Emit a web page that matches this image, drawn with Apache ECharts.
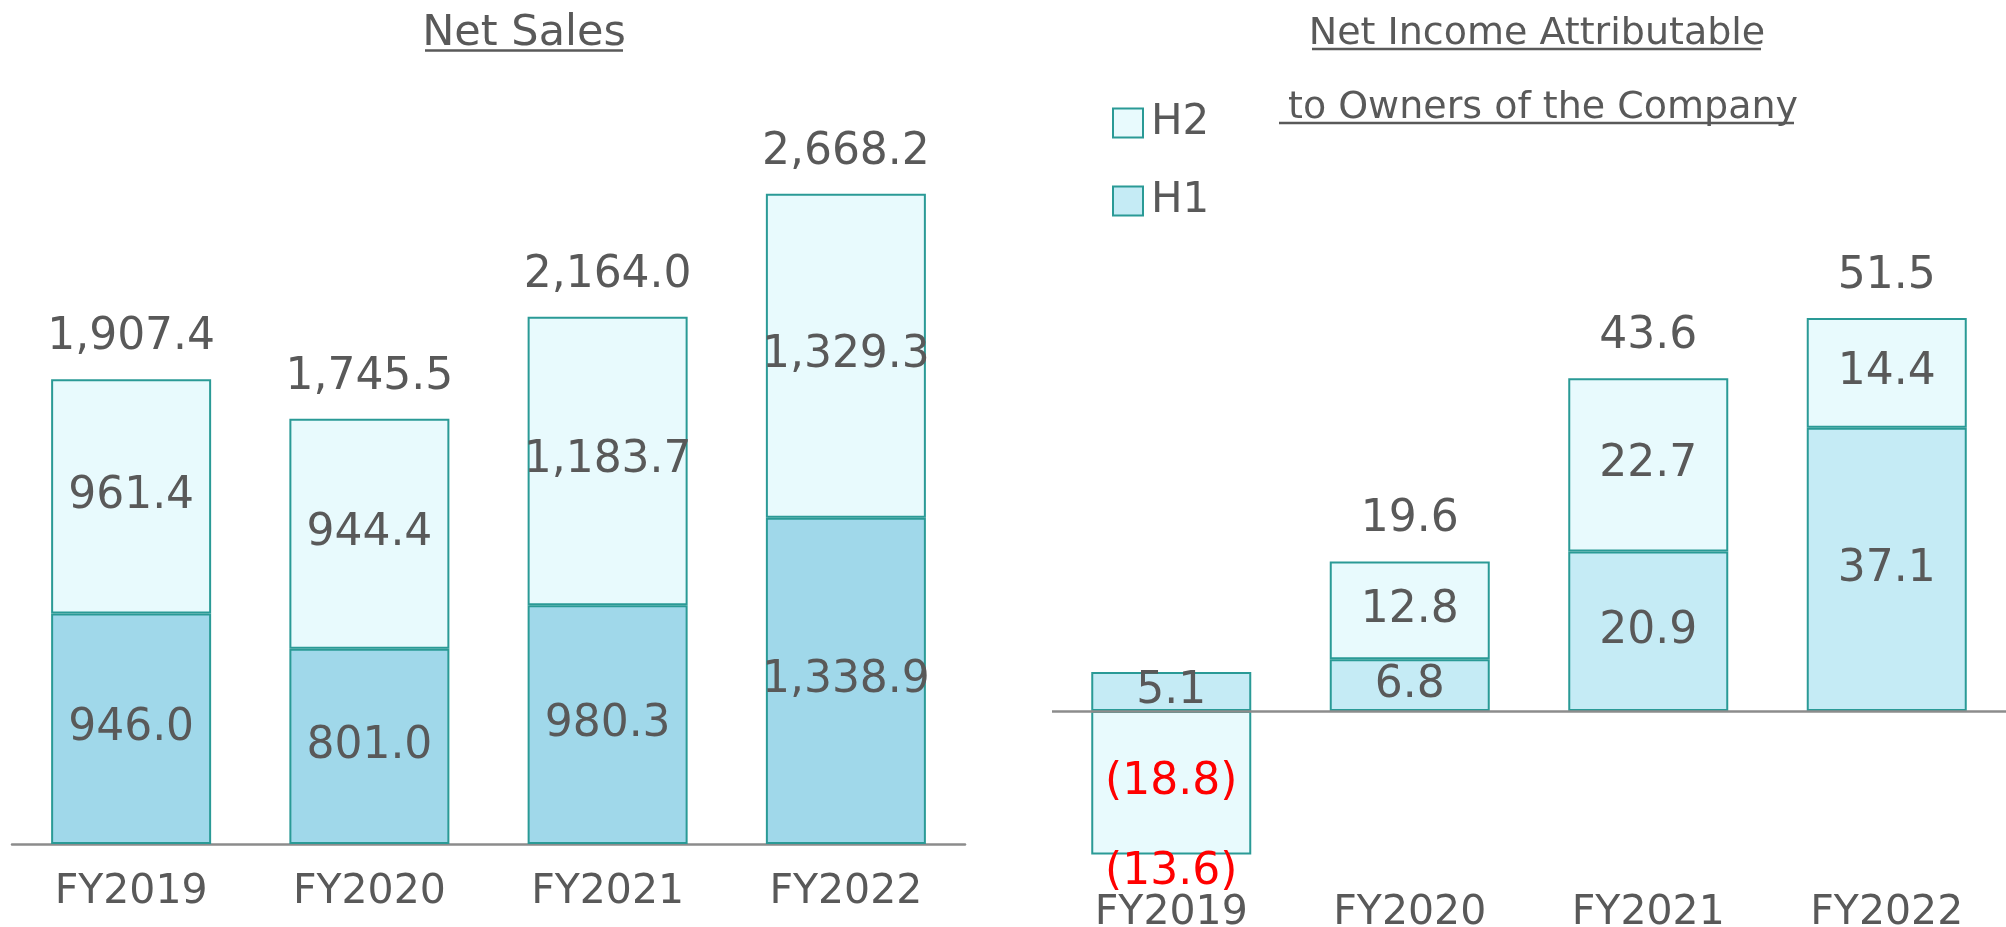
<!DOCTYPE html>
<html>
<head>
<meta charset="utf-8">
<title>Net Sales / Net Income</title>
<script src="https://cdn.jsdelivr.net/npm/echarts@6/dist/echarts.min.js"></script>
<style>
  html, body { margin: 0; padding: 0; background: #fff; }
  #main { width: 2006px; height: 927px; }
</style>
</head>
<body>
<div id="main"></div>
<script>
// data
var categories = ["FY2019", "FY2020", "FY2021", "FY2022"];

var salesH1 = [946.0, 801.0, 980.3, 1338.9];
var salesH2 = [961.4, 944.4, 1183.7, 1329.3];
var salesTotal = [1907.4, 1745.5, 2164.0, 2668.2];

var incomeH1 = [5.1, 6.8, 20.9, 37.1];
var incomeH2 = [-18.8, 12.8, 22.7, 14.4];
var incomeTotal = [-13.6, 19.6, 43.6, 51.5];

var font = "DejaVu Sans";
var textColor = "#595959";
var border = "#2A9A96";

function fmt(v) {
  var s = Math.abs(v).toFixed(1).replace(/\B(?=(\d{3})+(?!\d))/g, ",");
  return v < 0 ? "(" + s + ")" : s;
}

// red text for negative values
function items(arr) {
  return arr.map(function (v) {
    return v < 0 ? { value: v, label: { color: "#FF0000" } } : v;
  });
}

// total labels sit on the end of the stack (top if positive, bottom if negative)
function totalPoints(a, b, totals) {
  return totals.map(function (t, i) {
    var pos = Math.max(a[i], 0) + Math.max(b[i], 0);
    var neg = Math.min(a[i], 0) + Math.min(b[i], 0);
    var isNeg = t < 0;
    return {
      value: [i, isNeg ? neg : pos],
      total: t,
      label: isNeg ? { position: "bottom", distance: 0, lineHeight: 34, color: "#FF0000" } : { position: "top" }
    };
  });
}

function barLabel() {
  return {
    show: true,
    position: "inside",
    fontSize: 44,
    fontFamily: font,
    color: textColor,
    formatter: function (p) { return fmt(p.value); }
  };
}

function totalSeries(xi, data) {
  return {
    type: "scatter",
    xAxisIndex: xi,
    yAxisIndex: xi,
    symbolSize: 1,
    silent: true,
    itemStyle: { color: "transparent", opacity: 1 },
    data: data,
    label: {
      show: true,
      distance: 19,
      fontSize: 44,
      fontFamily: font,
      color: textColor,
      opacity: 1,
      formatter: function (p) { return fmt(p.data.total); }
    },
    z: 5
  };
}

var myChart = echarts.init(document.getElementById("main"));

var option = {
  animation: false,
  title: [
    { text: "Net Sales", left: 524, top: 12, padding: 0, textAlign: "center",
      textStyle: { fontSize: 43, fontWeight: "normal", fontFamily: font, color: textColor } },
    { text: "Net Income Attributable", left: 1537, top: 15, padding: 0, textAlign: "center",
      textStyle: { fontSize: 38, fontWeight: "normal", fontFamily: font, color: textColor } },
    { text: " to Owners of the Company", left: 1537, top: 89, padding: 0, textAlign: "center",
      textStyle: { fontSize: 38, fontWeight: "normal", fontFamily: font, color: textColor } }
  ],
  // underlines for the titles
  graphic: [
    { type: "line", shape: { x1: 425, y1: 50.5, x2: 623, y2: 50.5 }, style: { stroke: textColor, lineWidth: 2.7 } },
    { type: "line", shape: { x1: 1312, y1: 49, x2: 1761, y2: 49 }, style: { stroke: textColor, lineWidth: 2.7 } },
    { type: "line", shape: { x1: 1279, y1: 123, x2: 1794, y2: 123 }, style: { stroke: textColor, lineWidth: 2.7 } }
  ],
  legend: {
    data: ["H2", "H1"],
    orient: "vertical",
    left: 1112,
    top: 102,
    padding: 0,
    itemWidth: 30,
    itemHeight: 29,
    itemGap: 36,
    icon: "rect",
    selectedMode: false,
    textStyle: { fontSize: 42, fontFamily: font, color: textColor, padding: [0, 0, 4, 3] }
  },
  grid: [
    { left: 12, width: 953, top: 113, bottom: 83, outerBoundsMode: "none" },
    { left: 1052, right: 0, top: 253, bottom: 48, outerBoundsMode: "none" }
  ],
  xAxis: [
    {
      type: "category", gridIndex: 0, data: categories,
      axisLine: { lineStyle: { color: "#8C8C8C", width: 2.5 } },
      axisTick: { show: false },
      axisLabel: { margin: 28, fontSize: 41, lineHeight: 41, fontFamily: font, color: textColor }
    },
    {
      type: "category", gridIndex: 1, data: categories, position: "bottom",
      axisLine: { show: false, onZero: false },
      axisTick: { show: false },
      axisLabel: { margin: 14, fontSize: 41, lineHeight: 41, fontFamily: font, color: textColor }
    }
  ],
  yAxis: [
    { type: "value", gridIndex: 0, min: 0, max: 3000, show: false },
    { type: "value", gridIndex: 1, min: -22, max: 60, show: false }
  ],
  series: [
    {
      name: "H1", type: "bar", xAxisIndex: 1, yAxisIndex: 1, stack: "income",
      barWidth: 160,
      data: items(incomeH1),
      itemStyle: { color: "#C5EBF5", borderColor: border, borderWidth: 2 },
      label: barLabel(),
      markLine: {
        silent: true,
        symbol: ["none", "none"],
        label: { show: false },
        lineStyle: { color: "#8C8C8C", width: 2.5, type: "solid" },
        data: [{ yAxis: 0 }]
      }
    },
    {
      name: "H2", type: "bar", xAxisIndex: 1, yAxisIndex: 1, stack: "income",
      barWidth: 160,
      data: items(incomeH2),
      itemStyle: { color: "#E8FAFD", borderColor: border, borderWidth: 2 },
      label: barLabel()
    },
    {
      name: "H1", type: "bar", xAxisIndex: 0, yAxisIndex: 0, stack: "sales",
      barWidth: 160,
      data: items(salesH1),
      itemStyle: { color: "#A0D8EA", borderColor: border, borderWidth: 2 },
      label: barLabel()
    },
    {
      name: "H2", type: "bar", xAxisIndex: 0, yAxisIndex: 0, stack: "sales",
      barWidth: 160,
      data: items(salesH2),
      itemStyle: { color: "#E8FAFD", borderColor: border, borderWidth: 2 },
      label: barLabel()
    },
    totalSeries(0, totalPoints(salesH1, salesH2, salesTotal)),
    totalSeries(1, totalPoints(incomeH1, incomeH2, incomeTotal))
  ]
};

myChart.setOption(option);
</script>
</body>
</html>
